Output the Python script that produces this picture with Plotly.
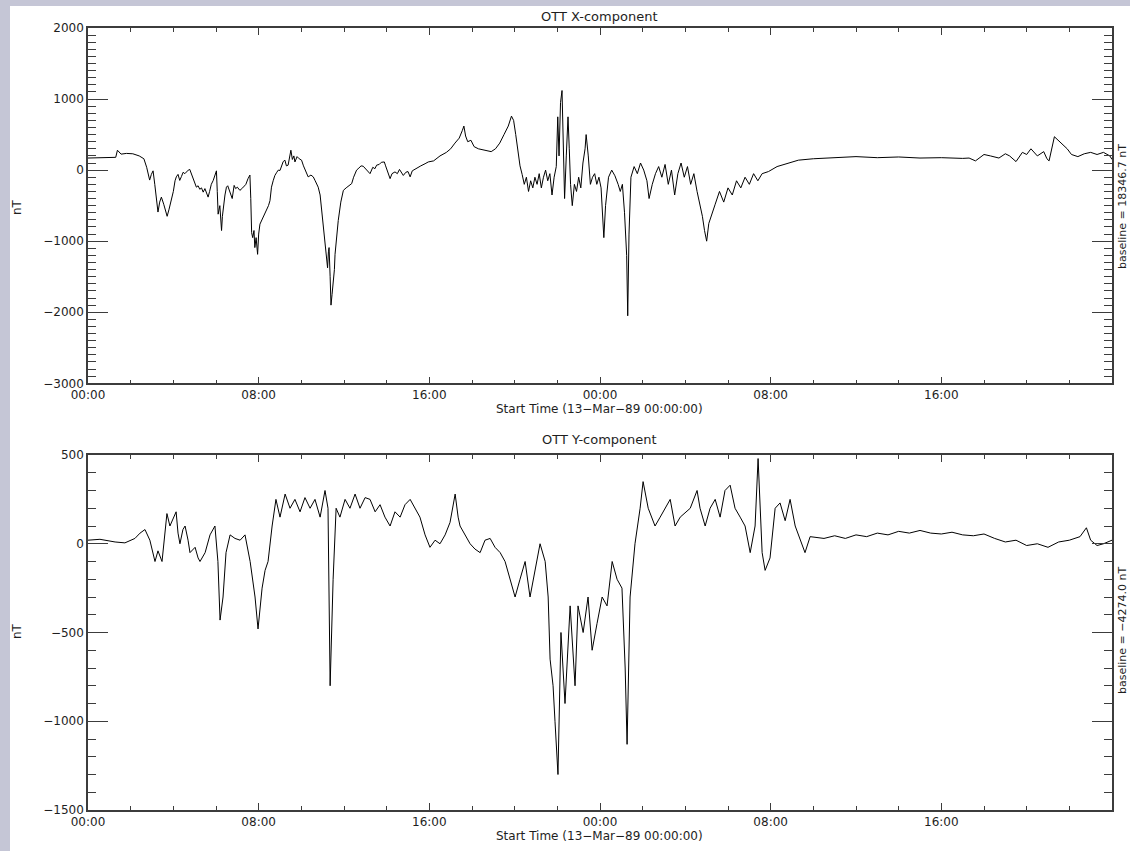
import plotly.graph_objects as go

# --- OTT magnetometer, 13-14 March 1989 (hours from start, nT) ---
x_hours = [
    0.0, 0.5, 1.0, 1.3, 1.38, 1.45, 1.55, 1.8, 2.1, 2.4, 2.62, 2.75, 2.89, 2.97, 3.05, 3.13, 3.2, 3.28,
    3.36, 3.44, 3.55, 3.64, 3.71, 3.8, 3.91, 4.0, 4.08, 4.14, 4.22, 4.3, 4.38, 4.46, 4.54, 4.62, 4.7,
    4.77, 4.85, 4.93, 5.0, 5.08, 5.16, 5.24, 5.32, 5.4, 5.48, 5.55, 5.63, 5.7, 5.78, 5.87, 5.95, 6.02,
    6.06, 6.1, 6.18, 6.26, 6.3, 6.34, 6.42, 6.49, 6.55, 6.62, 6.7, 6.76, 6.85, 6.92, 7.0, 7.12, 7.25,
    7.4, 7.5, 7.59, 7.63, 7.67, 7.72, 7.78, 7.82, 7.88, 7.95, 8.0, 8.06, 8.15, 8.22, 8.29, 8.38, 8.46,
    8.53, 8.57, 8.6, 8.68, 8.76, 8.85, 8.92, 9.0, 9.08, 9.15, 9.23, 9.3, 9.38, 9.45, 9.51, 9.58, 9.65,
    9.7, 9.8, 9.9, 10.01, 10.1, 10.2, 10.32, 10.45, 10.56, 10.65, 10.79, 10.88, 10.95, 11.05, 11.14,
    11.2, 11.23, 11.27, 11.3, 11.35, 11.39, 11.44, 11.5, 11.55, 11.58, 11.65, 11.73, 11.85, 11.97,
    12.1, 12.2, 12.36, 12.45, 12.59, 12.7, 12.8, 12.9, 13.0, 13.1, 13.22, 13.35, 13.45, 13.53, 13.65,
    13.75, 13.89, 13.95, 14.05, 14.16, 14.25, 14.39, 14.5, 14.6, 14.78, 14.9, 15.0, 15.1, 15.2, 15.3,
    15.41, 15.6, 15.8, 15.95, 16.2, 16.5, 16.8, 17.0, 17.2, 17.4, 17.55, 17.62, 17.7, 17.8, 17.95,
    18.1, 18.3, 18.6, 18.9, 19.1, 19.3, 19.5, 19.7, 19.85, 19.95, 20.05, 20.15, 20.25, 20.35, 20.45,
    20.55, 20.65, 20.75, 20.85, 20.95, 21.05, 21.15, 21.25, 21.35, 21.45, 21.55, 21.65, 21.75, 21.85,
    21.95, 22.02, 22.08, 22.15, 22.22, 22.28, 22.34, 22.42, 22.5, 22.56, 22.62, 22.7, 22.8, 22.9,
    23.0, 23.1, 23.2, 23.3, 23.35, 23.45, 23.55, 23.65, 23.75, 23.85, 23.95, 24.05, 24.12, 24.18,
    24.26, 24.4, 24.55, 24.7, 24.85, 24.95, 25.05, 25.15, 25.25, 25.3, 25.36, 25.45, 25.6, 25.75,
    25.9, 26.05, 26.2, 26.3, 26.45, 26.6, 26.75, 26.9, 27.05, 27.2, 27.35, 27.5, 27.65, 27.8, 27.95,
    28.1, 28.25, 28.4, 28.55, 28.7, 28.8, 28.9, 29.0, 29.1, 29.25, 29.4, 29.6, 29.8, 30.0, 30.2,
    30.4, 30.6, 30.8, 31.0, 31.2, 31.4, 31.6, 31.9, 32.3, 32.8, 33.3, 34.0, 35.0, 36.0, 37.0,
    38.0, 39.0, 40.0, 41.0, 41.3, 41.6, 42.0, 42.3, 42.7, 43.0, 43.2, 43.5, 43.8, 44.0, 44.2, 44.5,
    44.8, 44.95, 45.05, 45.3, 45.6, 45.9, 46.1, 46.4, 46.7, 47.0, 47.3, 47.6, 47.9, 48.0,
]
x_component = [
    170, 172, 175, 180, 280, 250, 225, 235, 230, 200, 160, 40, -140, -60, -10, -200, -380, -590,
    -450, -380, -480, -560, -650, -550, -430, -300, -150, -95, -60, -145, -90, -30, -50, -20, 0,
    10, -60, -120, -180, -240, -220, -270, -250, -310, -260, -330, -380, -300, -200, -145, -60, -10,
    -300, -620, -500, -850, -650, -520, -350, -240, -220, -280, -350, -400, -215, -260, -240, -285, -250,
    -200, -120, -70, -400, -880, -950, -850, -1090, -950, -1185, -900, -760, -700, -650, -620, -550, -500,
    -430, -300, -240, -150, -75, -30, 0, -5, 80, 120, 140, 60, 70, 200, 280, 150, 200,
    115, 190, 160, 140, 60, -20, -95, -70, -95, -150, -240, -350, -570, -900, -1090,
    -1300, -1375, -1150, -1090, -1500, -1900, -1750, -1565, -1400, -1185, -950, -710, -450, -285,
    -250, -230, -190, -100, 0, 30, 60, 55, 20, -20, -50, 40, 20, 70, 80,
    110, 115, 60, -40, -120, -50, -25, -50, 10, -75, -30, -20, -95, -10, 10,
    20, 60, 90, 115, 130, 200, 250, 300, 380, 450, 560, 620, 480, 400, 420,
    330, 300, 280, 260, 300, 380, 500, 620, 760, 700, 500, 300, 60, -60, -200,
    -100, -300, -150, -250, -100, -200, -50, -250, -100, 0, -150, -50, -350, -100,
    50, 750, 200, 950, 1120, 300, -400, 200, 750, 300, -200, -500, -200, -300,
    -100, -250, 100, 300, 500, 200, -200, -100, -50, -200, -100, -250, -600, -950,
    -500, -100, 0, -80, -200, -300, -200, -600, -1200, -2050, -900, -100, 50, -50,
    100, 0, -150, -400, -200, -50, 50, -100, 80, -200, 0, -350, -50, 100, -100,
    50, -200, -50, -300, -500, -650, -850, -1000, -750, -600, -480, -300, -450, -250, -350,
    -150, -250, -100, -200, -50, -150, -50, -20, 50, 100, 140, 160, 180, 190, 175, 185,
    170, 175, 165, 170, 130, 220, 200, 170, 230, 200, 120, 250, 220, 300, 200, 260,
    160, 130, 470, 380, 300, 220, 190, 230, 250, 220, 250, 200, 150, 170,
]

y_hours = [
    0.0, 0.56, 1.27, 1.73, 2.2, 2.44, 2.67, 2.9, 3.14, 3.28, 3.47, 3.6, 3.7, 3.84, 3.94, 4.13, 4.22,
    4.31, 4.45, 4.55, 4.69, 4.78, 5.02, 5.16, 5.25, 5.49, 5.72, 5.95, 6.09, 6.19, 6.33, 6.47, 6.66,
    6.89, 7.13, 7.36, 7.6, 7.83, 7.97, 8.16, 8.3, 8.44, 8.63, 8.81, 9.0, 9.24, 9.47, 9.7, 9.94,
    10.17, 10.41, 10.64, 10.88, 11.11, 11.25, 11.35, 11.49, 11.63, 11.81, 12.05, 12.28, 12.52, 12.75,
    12.99, 13.22, 13.46, 13.69, 13.92, 14.16, 14.39, 14.63, 14.86, 15.1, 15.33, 15.56, 15.8, 16.03,
    16.27, 16.5, 16.74, 16.97, 17.21, 17.35, 17.44, 17.67, 17.91, 18.14, 18.38, 18.61, 18.85, 19.08,
    19.32, 19.55, 19.78, 20.02, 20.25, 20.49, 20.72, 20.96, 21.19, 21.43, 21.57, 21.66, 21.8, 21.89,
    22.03, 22.17, 22.36, 22.6, 22.83, 22.97, 23.21, 23.44, 23.63, 23.86, 24.1, 24.33, 24.57, 24.8,
    25.03, 25.18, 25.27, 25.41, 25.64, 25.88, 26.02, 26.26, 26.58, 26.82, 27.05, 27.29, 27.52, 27.76,
    28.23, 28.55, 28.69, 28.93, 29.16, 29.4, 29.63, 29.86, 30.1, 30.33, 30.57, 30.8, 31.04, 31.27,
    31.41, 31.5, 31.6, 31.74, 31.97, 32.21, 32.44, 32.68, 32.91, 33.15, 33.38, 33.61, 33.85, 34.5,
    35.0, 35.5, 36.0, 36.5, 37.0, 37.5, 38.0, 38.5, 39.0, 39.5, 40.0, 40.5, 41.0, 41.5, 42.0, 42.5,
    43.0, 43.5, 44.0, 44.5, 45.0, 45.5, 46.0, 46.5, 46.8, 47.0, 47.3, 47.6, 48.0,
]
y_component = [
    20, 25, 10, 5, 30, 60, 80, 20, -100, -40, -100, 50, 170, 100, 130, 180, 60,
    0, 80, 100, 20, -50, -20, -80, -100, -50, 50, 100, -100, -430, -300, -50, 50,
    30, 20, 50, -100, -300, -480, -250, -150, -100, 100, 250, 150, 280, 200, 250, 180,
    260, 200, 250, 150, 300, 200, -800, -200, 200, 150, 250, 200, 280, 200,
    260, 250, 180, 220, 150, 100, 180, 150, 220, 250, 200, 150, 50, -20,
    20, 0, 50, 120, 280, 150, 100, 50, 0, -30, -50, 20, 30, -20,
    -50, -100, -200, -300, -200, -100, -300, -150, 0, -100, -300, -650, -800, -1000,
    -1300, -500, -900, -350, -800, -350, -500, -300, -600, -450, -300, -350, -100, -200,
    -250, -700, -1130, -300, 0, 200, 350, 200, 100, 150, 200, 250, 100, 150,
    200, 300, 200, 100, 200, 250, 150, 300, 330, 200, 150, 100, -50, 100,
    480, 200, -50, -150, -80, 200, 230, 130, 250, 100, 20, -50, 40, 30,
    45, 30, 50, 40, 60, 50, 70, 60, 75, 60, 55, 65, 50, 45, 55, 30,
    10, 20, -10, 0, -20, 10, 20, 40, 90, 20, -10, 0, 20,
]

tick_hours = [0, 8, 16, 24, 32, 40]
tick_labels = ["00:00", "08:00", "16:00", "00:00", "08:00", "16:00"]

FONT = "DejaVu Sans"
AX = "#3c3c3c"
TXT = "#1e1e1e"

# pixel helpers for annotation placement (plot area: x 88..1112, y 28..810)
def px(x):
    return (x - 88) / 1024.0

def py(y):
    return (810 - y) / 782.0

fig = go.Figure()
fig.add_trace(go.Scatter(x=x_hours, y=x_component, mode="lines",
                         line=dict(color="black", width=1), xaxis="x", yaxis="y",
                         showlegend=False, hoverinfo="skip"))
fig.add_trace(go.Scatter(x=y_hours, y=y_component, mode="lines",
                         line=dict(color="black", width=1), xaxis="x2", yaxis="y2",
                         showlegend=False, hoverinfo="skip"))

def xaxis(anchor):
    return dict(
        anchor=anchor, domain=[0, 1], range=[0, 48],
        tickmode="array", tickvals=tick_hours, ticktext=tick_labels,
        ticks="inside", ticklen=7, tickwidth=1, tickcolor=AX,
        showline=True, linecolor=AX, linewidth=1.5, mirror="allticks",
        showgrid=False, zeroline=False,
        minor=dict(tickmode="linear", tick0=0, dtick=2, ticks="inside",
                   ticklen=4, tickwidth=1, tickcolor=AX, showgrid=False),
        tickfont=dict(family=FONT, size=12, color=TXT),
    )

def yaxis(anchor, domain, rng, dtick):
    return dict(
        anchor=anchor, domain=domain, range=rng,
        tickmode="linear", tick0=0, dtick=dtick,
        ticks="inside", ticklen=20, tickwidth=1, tickcolor=AX,
        showline=True, linecolor=AX, linewidth=1.5, mirror="allticks",
        showgrid=False, zeroline=False,
        minor=dict(tickmode="linear", tick0=0, dtick=100, ticks="inside",
                   ticklen=8, tickwidth=1, tickcolor=AX, showgrid=False),
        tickfont=dict(family=FONT, size=12, color=TXT),
    )

ann = []
def text(x, y, s, size=12, angle=0):
    ann.append(dict(xref="paper", yref="paper", x=x, y=y, text=s, showarrow=False,
                    xanchor="center", yanchor="middle", textangle=angle,
                    font=dict(family=FONT, size=size, color=TXT)))

text(px(599), py(17), "OTT X-component", 13)
text(px(599), py(409), "Start Time (13\u2212Mar\u221289 00:00:00)", 12)
text(px(17), py(207), "nT", 12, -90)
text(px(1122), py(207), "baseline = 18346.7 nT", 11, -90)

text(px(599), py(440), "OTT Y-component", 13)
text(px(599), py(836), "Start Time (13\u2212Mar\u221289 00:00:00)", 12)
text(px(17), py(631), "nT", 12, -90)
text(px(1122), py(631), "baseline = \u22124274.0 nT", 11, -90)

# light slate frame along the top and left edges
band = "#c5c6d6"
shapes = [
    dict(type="rect", xref="paper", yref="paper", x0=px(-5), x1=px(10), y0=py(900), y1=py(-5),
         fillcolor=band, line=dict(width=0), layer="below"),
    dict(type="rect", xref="paper", yref="paper", x0=px(-5), x1=px(1140), y0=py(6), y1=py(-5),
         fillcolor=band, line=dict(width=0), layer="below"),
]

fig.update_layout(
    width=1130, height=851,
    margin=dict(l=88, r=18, t=28, b=41),
    paper_bgcolor="white", plot_bgcolor="white",
    xaxis=xaxis("y"),
    yaxis=yaxis("x", [1 - (383.3 - 28) / 782, 1.0], [-3000, 2000], 1000),
    xaxis2=xaxis("y2"),
    yaxis2=yaxis("x2", [0.0, 1 - (455 - 28) / 782], [-1500, 500], 500),
    annotations=ann, shapes=shapes,
    showlegend=False,
)

fig.write_html("out.html")
